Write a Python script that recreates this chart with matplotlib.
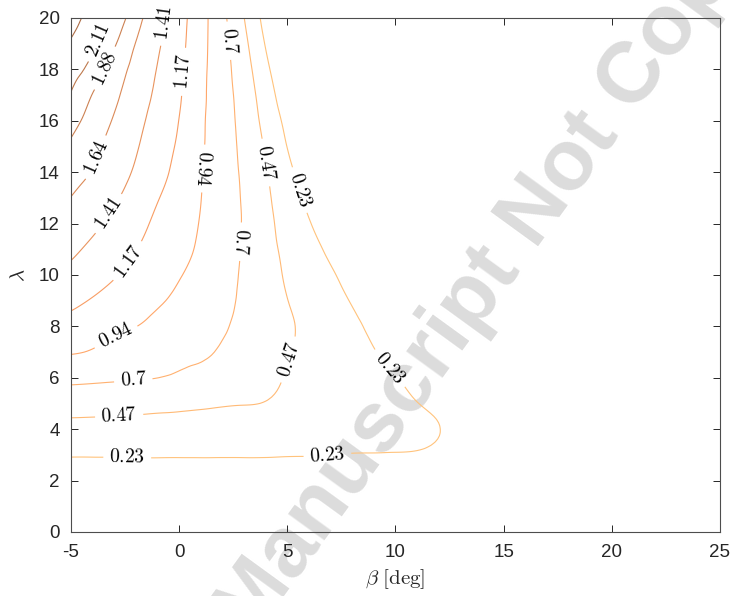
import numpy as np
import matplotlib
matplotlib.use('Agg')
import matplotlib.pyplot as plt
import matplotlib.tri as mtri

# pitch angle (columns) and tip speed ratio (rows)
beta = [-5, -4, -3, -2, -1, 0, 1, 2, 3, 4, 5, 6, 7, 8, 9, 10, 11, 12, 13, 14, 17, 20, 25]
lam = list(range(0, 21))

# values estimated from the contour lines, one row per lambda
ct = [
    [0.0] * 23,
    [0.05] * 16 + [0.048, 0.045, 0.042, 0.04, 0.03, 0.02, 0.01],
    [0.14] * 14 + [0.138, 0.135, 0.13, 0.125, 0.118, 0.11, 0.09, 0.07, 0.04],
    [0.245, 0.245, 0.246, 0.247, 0.248, 0.247, 0.247, 0.246, 0.246, 0.245, 0.241, 0.240, 0.235, 0.229, 0.228, 0.226, 0.222, 0.205, 0.19, 0.175, 0.14, 0.11, 0.07],
    [0.395, 0.392, 0.389, 0.386, 0.382, 0.378, 0.372, 0.367, 0.361, 0.352, 0.335, 0.32, 0.30, 0.29, 0.288, 0.282, 0.265, 0.237, 0.205, 0.18, 0.13, 0.09, 0.04],
    [0.566, 0.560, 0.552, 0.542, 0.530, 0.516, 0.499, 0.483, 0.475, 0.462, 0.42, 0.38, 0.345, 0.31, 0.29, 0.27, 0.237, 0.205, 0.18, 0.155, 0.10, 0.06, 0.0],
    [0.759, 0.746, 0.730, 0.717, 0.704, 0.672, 0.628, 0.579, 0.545, 0.507, 0.46, 0.42, 0.376, 0.332, 0.287, 0.24, 0.19, 0.14, 0.1, 0.07, 0.02, -0.03, -0.1],
    [0.953, 0.920, 0.866, 0.829, 0.790, 0.755, 0.74, 0.675, 0.615, 0.545, 0.482, 0.419, 0.36, 0.302, 0.243, 0.179, 0.12, 0.07, 0.03, -0.01, -0.1, -0.16, -0.25],
    [1.092, 1.042, 0.985, 0.940, 0.877, 0.820, 0.79, 0.725, 0.655, 0.575, 0.494, 0.423, 0.340, 0.268, 0.20, 0.13, 0.07, 0.02, -0.03, -0.07, -0.16, -0.24, -0.35],
    [1.224, 1.156, 1.089, 1.026, 0.963, 0.894, 0.83, 0.755, 0.668, 0.569, 0.472, 0.387, 0.304, 0.222, 0.14, 0.07, 0.01, -0.04, -0.09, -0.13, -0.24, -0.32, -0.45],
    [1.344, 1.266, 1.187, 1.108, 1.029, 0.949, 0.87, 0.773, 0.677, 0.558, 0.445, 0.350, 0.258, 0.165, 0.08, 0.01, -0.05, -0.1, -0.15, -0.19, -0.31, -0.4, -0.53],
    [1.451, 1.360, 1.268, 1.177, 1.088, 1.0, 0.905, 0.796, 0.682, 0.544, 0.419, 0.307, 0.194, 0.10, 0.02, -0.05, -0.11, -0.16, -0.21, -0.25, -0.37, -0.46, -0.6],
    [1.543, 1.452, 1.350, 1.239, 1.131, 1.029, 0.926, 0.808, 0.686, 0.531, 0.386, 0.248, 0.125, 0.03, -0.05, -0.12, -0.18, -0.23, -0.28, -0.32, -0.43, -0.52, -0.66],
    [1.636, 1.534, 1.432, 1.311, 1.184, 1.063, 0.941, 0.813, 0.678, 0.511, 0.348, 0.183, 0.05, -0.04, -0.12, -0.19, -0.25, -0.3, -0.35, -0.39, -0.49, -0.58, -0.72],
    [1.736, 1.628, 1.505, 1.380, 1.246, 1.104, 0.953, 0.812, 0.664, 0.486, 0.293, 0.11, -0.03, -0.12, -0.2, -0.26, -0.32, -0.37, -0.41, -0.45, -0.55, -0.64, -0.78],
    [1.837, 1.697, 1.560, 1.426, 1.286, 1.138, 0.967, 0.810, 0.645, 0.447, 0.230, 0.03, -0.1, -0.19, -0.27, -0.33, -0.39, -0.44, -0.48, -0.52, -0.62, -0.7, -0.84],
    [1.959, 1.780, 1.621, 1.473, 1.322, 1.168, 0.976, 0.806, 0.622, 0.400, 0.170, -0.04, -0.17, -0.26, -0.34, -0.4, -0.46, -0.51, -0.55, -0.59, -0.69, -0.77, -0.9],
    [2.095, 1.866, 1.683, 1.522, 1.364, 1.195, 0.989, 0.801, 0.598, 0.352, 0.091, -0.12, -0.24, -0.33, -0.41, -0.47, -0.53, -0.58, -0.62, -0.66, -0.76, -0.84, -0.96],
    [2.210, 2.021, 1.768, 1.571, 1.397, 1.217, 1.000, 0.792, 0.564, 0.292, 0.01, -0.19, -0.31, -0.4, -0.48, -0.54, -0.6, -0.65, -0.69, -0.73, -0.83, -0.91, -1.02],
    [2.321, 2.158, 1.904, 1.633, 1.436, 1.240, 1.013, 0.779, 0.523, 0.219, -0.07, -0.26, -0.38, -0.47, -0.55, -0.61, -0.67, -0.72, -0.76, -0.8, -0.9, -0.98, -1.08],
    [2.43, 2.248, 2.042, 1.73, 1.480, 1.257, 1.024, 0.758, 0.472, 0.151, -0.15, -0.33, -0.45, -0.54, -0.62, -0.68, -0.74, -0.79, -0.83, -0.87, -0.97, -1.05, -1.15],
]

levels = [0.2344, 0.4688, 0.7031, 0.9375, 1.1719, 1.4063, 1.6406, 1.875, 2.1094, 2.3438]

# where the inline labels sit (beta, lambda)
label_spots = [
    (-3.72, 19.13), (-3.49, 18.07), (-3.89, 14.59), (-3.23, 12.37), (-0.81, 19.84),
    (-2.43, 10.58), (0.16, 17.91), (-2.89, 7.54), (0.96, 14.15), (-2.12, 5.91),
    (2.66, 11.3), (2.35, 19.12), (-2.78, 4.62), (5.12, 6.69), (3.97, 14.37),
    (-2.4, 2.93), (6.85, 3.02), (9.82, 6.43), (5.59, 13.31),
]
# labels that read top to bottom in the original
flipped = [8, 10]

plt.rcParams['font.family'] = 'Liberation Sans'
plt.rcParams['mathtext.fontset'] = 'cm'
plt.rcParams['axes.unicode_minus'] = False

fig = plt.figure(figsize=(7.31, 5.96), dpi=100)
ax = fig.add_axes([0.0971, 0.1074, 0.8878, 0.8624])
ax.patch.set_alpha(0)

# watermark of the source manuscript
fig.text(251 / 731, 1 - 641 / 596, 'Manuscript Not Copyedited', rotation=54, rotation_mode='anchor',
         ha='left', va='baseline', fontsize=62, fontweight='bold', color='#dcdcdc', zorder=-1)

B, L = np.meshgrid(beta, lam)
tri = mtri.Triangulation(B.ravel(), L.ravel())
z = np.array(ct).ravel()
smooth = mtri.CubicTriInterpolator(tri, z, kind='min_E')
tri_fine, ct_fine = mtri.UniformTriRefiner(tri).refine_field(z, triinterpolator=smooth, subdiv=3)

line_colors = plt.cm.copper(np.linspace(0.98, 0.55, len(levels)))
cs = ax.tricontour(tri_fine, ct_fine, levels=levels, colors=line_colors, linewidths=0.8)


def fmt(v):
    return '$%g$' % round(v, 2)


labels = ax.clabel(cs, fmt=fmt, manual=label_spots, inline=True, fontsize=14, colors='k', inline_spacing=6)
for i, t in enumerate(labels):
    t.set_clip_on(False)
    if i in flipped and t.get_rotation() < 180:
        t.set_rotation(t.get_rotation() + 180)

ax.set_xlim(-5, 25)
ax.set_ylim(0, 20)
ax.set_xticks(range(-5, 26, 5))
ax.set_yticks(range(0, 21, 2))
ax.tick_params(direction='in', length=5, top=True, right=True, labelsize=13.5,
               colors='#262626', width=0.7)
ax.tick_params(axis='x', pad=9)
ax.tick_params(axis='y', pad=8)
for s in ax.spines.values():
    s.set_color('#4d4d4d')
    s.set_linewidth(0.8)

ax.set_xlabel(r'$\beta\ \mathrm{[deg]}$', fontsize=15, color='#262626')
ax.set_ylabel(r'$\lambda$', fontsize=15, color='#262626')
ax.xaxis.set_label_coords(0.5, -0.068)
ax.yaxis.set_label_coords(-0.066, 0.5)

fig.savefig('out.png', dpi=100)
